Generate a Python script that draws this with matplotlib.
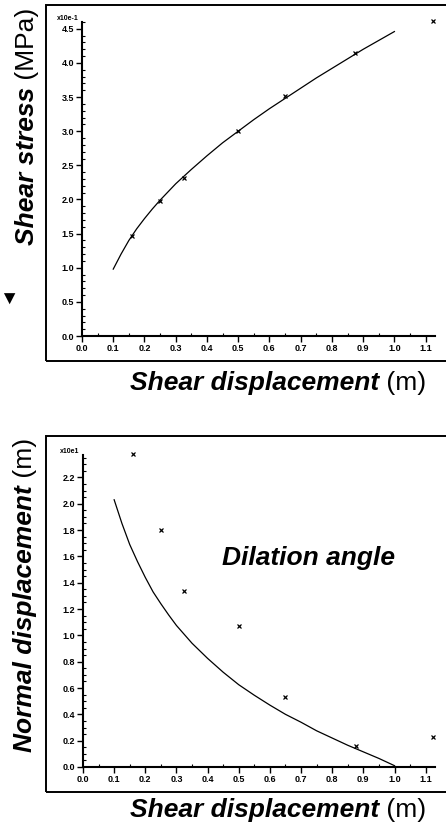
import matplotlib
matplotlib.use("Agg")
import matplotlib.pyplot as plt
from matplotlib.patches import Rectangle
from matplotlib.ticker import MultipleLocator, FormatStrFormatter

plt.rcParams["font.family"] = ["Liberation Sans", "DejaVu Sans"]

# measured points (shear displacement, m)
meas_disp = [0.16, 0.25, 0.325, 0.50, 0.65, 0.875, 1.125]
meas_stress = [1.47, 1.98, 2.31, 3.00, 3.51, 4.14, 4.62]      # x10e-1 MPa
meas_normal = [2.38, 1.80, 1.335, 1.07, 0.53, 0.16, 0.23]     # x10e1 m

# fitted curves
fit_disp = [0.10, 0.125, 0.15, 0.175, 0.20, 0.225, 0.25, 0.275, 0.30, 0.35,
            0.40, 0.45, 0.50, 0.55, 0.60, 0.65, 0.70, 0.75, 0.80, 0.85,
            0.90, 0.95, 1.00]
fit_stress = [0.98, 1.20, 1.40, 1.57, 1.72, 1.86, 1.99, 2.11, 2.23, 2.44,
              2.64, 2.83, 3.00, 3.17, 3.33, 3.48, 3.63, 3.78, 3.92, 4.06,
              4.20, 4.33, 4.46]
fit_normal = [2.03, 1.85, 1.69, 1.56, 1.44, 1.33, 1.24, 1.155, 1.075, 0.94,
              0.825, 0.72, 0.625, 0.545, 0.47, 0.40, 0.34, 0.275, 0.22, 0.165,
              0.115, 0.065, 0.01]

FIG_W, FIG_H = 446, 832
LABEL_SIZE = 19


def style_axis(axis, ymax, ymajor, yminor, scale_label):
    axis.set_xlim(0, 1.13)
    axis.set_ylim(0, ymax)
    for side in ("top", "right"):
        axis.spines[side].set_visible(False)
    for side in ("left", "bottom"):
        axis.spines[side].set_linewidth(1.5)
    axis.xaxis.set_major_locator(MultipleLocator(0.1))
    axis.xaxis.set_minor_locator(MultipleLocator(0.05))
    axis.yaxis.set_major_locator(MultipleLocator(ymajor))
    axis.yaxis.set_minor_locator(MultipleLocator(yminor))
    axis.xaxis.set_major_formatter(FormatStrFormatter("%.1f"))
    axis.yaxis.set_major_formatter(FormatStrFormatter("%.1f"))
    axis.tick_params(which="major", direction="out", length=4, width=1,
                     labelsize=6.5, pad=1.5)
    for lab in axis.get_xticklabels() + axis.get_yticklabels():
        lab.set_fontweight("bold")
    axis.tick_params(which="minor", direction="in", length=2.5, width=0.8)
    axis.text(-0.01, 1.0, scale_label, transform=axis.transAxes,
              ha="right", va="bottom", fontsize=5, fontweight="bold")


def place_label(fig, cx, cy, parts, size, vertical=False):
    """
    Places a label made of differently styled parts, centred on (cx, cy) in pixels.
    """
    renderer = fig.canvas.get_renderer()
    texts = []
    lengths = []
    for s, weight, style in parts:
        t = fig.text(0, 0, s, fontsize=size, fontweight=weight, fontstyle=style,
                     rotation=90 if vertical else 0, rotation_mode="anchor",
                     ha="left", va="center", transform=None)
        bb = t.get_window_extent(renderer)
        texts.append(t)
        lengths.append(bb.height if vertical else bb.width)
    pos = (cy if vertical else cx) - sum(lengths) / 2
    for t, length in zip(texts, lengths):
        if vertical:
            t.set_position((cx, pos))
        else:
            t.set_position((pos, cy))
        pos += length


fig = plt.figure(figsize=(FIG_W / 100, FIG_H / 100), dpi=100)

# outer frames
fig.add_artist(Rectangle((46 / FIG_W, 1 - 361 / FIG_H), 1.0, 356 / FIG_H,
                         transform=fig.transFigure, fill=False, lw=1.4, color="black"))
fig.add_artist(Rectangle((46 / FIG_W, 1 - 792 / FIG_H), 1.0, 356 / FIG_H,
                         transform=fig.transFigure, fill=False, lw=1.4, color="black"))

ax1 = fig.add_axes([82 / FIG_W, 1 - 336 / FIG_H, 353 / FIG_W, 314 / FIG_H])
ax1.plot(fit_disp, fit_stress, color="black", lw=0.9)
ax1.plot(meas_disp, meas_stress, "x", color="black", ms=3.5, mew=0.9, clip_on=False)
style_axis(ax1, 4.6, 0.5, 0.1, "x10e-1")

ax2 = fig.add_axes([83 / FIG_W, 1 - 767 / FIG_H, 352 / FIG_W, 312 / FIG_H])
ax2.plot(fit_disp, fit_normal, color="black", lw=0.9)
ax2.plot(meas_disp, meas_normal, "x", color="black", ms=3.5, mew=0.9, clip_on=False)
style_axis(ax2, 2.37, 0.2, 0.05, "x10e1")
ax2.text(0.723, 1.59, "Dilation angle", fontsize=LABEL_SIZE, fontweight="bold",
         fontstyle="italic", ha="center", va="center")

fig.canvas.draw()
place_label(fig, 27, FIG_H - 126,
            [("Shear stress", "bold", "italic"), (" (MPa)", "normal", "normal")],
            LABEL_SIZE, vertical=True)
place_label(fig, 278, FIG_H - 383,
            [("Shear displacement", "bold", "italic"), (" (m)", "normal", "normal")],
            LABEL_SIZE)
place_label(fig, 25, FIG_H - 595,
            [("Normal displacement", "bold", "italic"), (" (m)", "normal", "normal")],
            LABEL_SIZE, vertical=True)
place_label(fig, 278, FIG_H - 810,
            [("Shear displacement", "bold", "italic"), (" (m)", "normal", "normal")],
            LABEL_SIZE)

# small arrowhead mark left of the top panel
fig.text(9 / FIG_W, 1 - 300 / FIG_H, "\u25BC", fontsize=14, ha="center", va="center")

fig.savefig("out.png", dpi=100)
